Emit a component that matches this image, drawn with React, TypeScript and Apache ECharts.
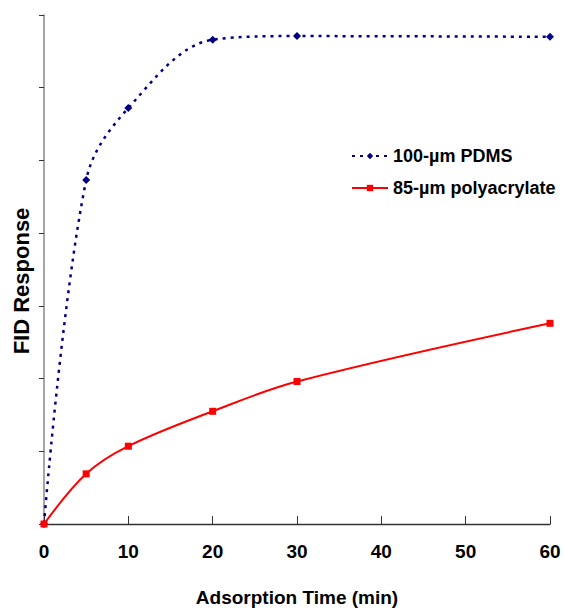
import React, { useEffect, useRef } from "react";
import * as echarts from "echarts";

const times = [0, 5, 10, 20, 30, 60];
const pdms = [0, 4.73, 5.72, 6.66, 6.71, 6.7];
const polyacrylate = [0, 0.69, 1.07, 1.55, 1.96, 2.76];
const seriesNames = ["100-µm PDMS", "85-µm polyacrylate"];
const xTicks = [0, 10, 20, 30, 40, 50, 60];

export default function App() {
  const ref = useRef<HTMLDivElement>(null);
  useEffect(() => {
    if (!ref.current) return;
    const chart = echarts.init(ref.current, undefined, { renderer: "svg" });
    const font = "Liberation Sans, Arial, sans-serif";
    chart.setOption({
      animation: false,
      grid: { left: 44, right: 14, top: 15, bottom: 87 },
      legend: {
        orient: "vertical",
        left: 346,
        top: 142,
        itemGap: 14,
        itemWidth: 36,
        itemHeight: 8,
        data: seriesNames,
        textStyle: { fontFamily: font, fontWeight: "bold", fontSize: 18, color: "#000" },
      },
      xAxis: {
        type: "value",
        min: 0,
        max: 60,
        interval: 10,
        name: "Adsorption Time (min)",
        nameLocation: "middle",
        nameGap: 64,
        nameTextStyle: { fontFamily: font, fontWeight: "bold", fontSize: 19, color: "#000" },
        axisLine: { lineStyle: { color: "#333", width: 1.3 } },
        axisTick: { inside: true, length: 8, lineStyle: { color: "#333" } },
        axisLabel: {
          fontFamily: font,
          fontWeight: "bold",
          fontSize: 19,
          color: "#000",
          margin: 18,
          formatter: (v: number) => (xTicks.includes(v) ? String(v) : ""),
        },
        splitLine: { show: false },
      },
      yAxis: {
        type: "value",
        min: 0,
        max: 7,
        interval: 1,
        axisLine: { show: true, lineStyle: { color: "#888", width: 1.5 } },
        axisTick: { show: true, length: 5, lineStyle: { color: "#333" } },
        axisLabel: { show: false },
        splitLine: { show: false },
      },
      graphic: [
        {
          type: "text",
          x: 21,
          y: 281,
          rotation: Math.PI / 2,
          style: {
            text: "FID Response",
            fontFamily: font,
            fontWeight: "bold",
            fontSize: 22,
            fill: "#000",
            align: "center",
            verticalAlign: "middle",
          },
        },
      ],
      series: [
        {
          name: seriesNames[0],
          type: "line",
          data: times.map((t, i) => [t, pdms[i]]),
          smooth: 0.35,
          symbol: "diamond",
          symbolSize: 8,
          itemStyle: { color: "#000080" },
          lineStyle: { color: "#000080", width: 2.5, type: [3, 5] },
          z: 3,
        },
        {
          name: seriesNames[1],
          type: "line",
          data: times.map((t, i) => [t, polyacrylate[i]]),
          smooth: 0.35,
          symbol: "rect",
          symbolSize: 7,
          itemStyle: { color: "#ff0000" },
          lineStyle: { color: "#ff0000", width: 2 },
          z: 4,
        },
      ],
    });
    return () => chart.dispose();
  }, []);
  return (
    <div
      ref={ref}
      style={{ position: "absolute", left: 0, top: 0, width: 564, height: 612 }}
    />
  );
}
